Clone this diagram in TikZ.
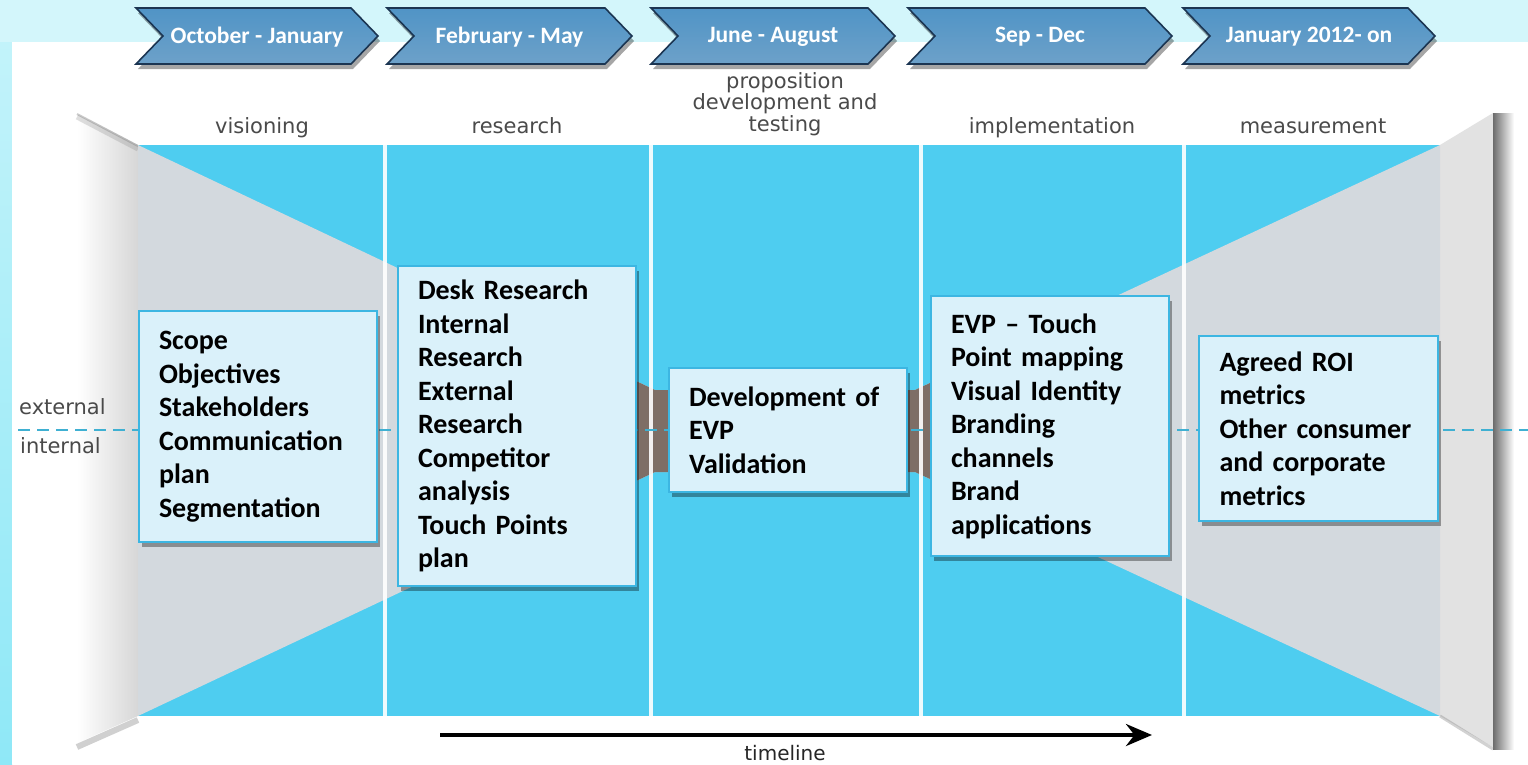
\documentclass[tikz,border=0pt]{standalone}
\usepackage{fontspec}
\setmainfont{Carlito}
\newfontfamily\dejavu{DejaVu Sans}
\usetikzlibrary{shadows,arrows.meta}
\definecolor{bgcyan}{HTML}{D3F6FB}
\definecolor{stripA}{HTML}{C2F3FA}
\definecolor{stripB}{HTML}{8FE8F7}
\definecolor{colcyan}{HTML}{4ECDF0}
\definecolor{wedge}{HTML}{D3D9DE}
\definecolor{pinch}{HTML}{7E6E66}
\definecolor{sidegray}{HTML}{E2E2E2}
\definecolor{chevtop}{HTML}{5094C6}
\definecolor{chevbot}{HTML}{6DA1C9}
\definecolor{chevedge}{HTML}{1B3552}
\definecolor{boxfill}{HTML}{DAF1FA}
\definecolor{boxedge}{HTML}{3CB6E2}
\definecolor{hdrgray}{HTML}{4A4A4A}
\definecolor{dashcol}{HTML}{3FB0D2}
\begin{document}
\begin{tikzpicture}[x=1pt,y=-1pt,
  chevbox/.style={draw=chevedge, line width=1.6pt, top color=chevtop, bottom color=chevbot,
    drop shadow={shadow xshift=2pt, shadow yshift=-5pt, opacity=0.35, fill=black}},
  chevtext/.style={text=white, font=\bfseries\fontsize{23.5}{27}\selectfont},
  infobox/.style={draw=boxedge, line width=2pt, fill=boxfill, outer sep=0pt,
    drop shadow={shadow xshift=3pt, shadow yshift=-5pt, opacity=0.35, fill=black},
    text width=198pt, align=left, inner xsep=20pt, anchor=north west,
    font=\bfseries\fontsize{28}{33.5}\selectfont},
  header/.style={text=hdrgray, font=\dejavu\fontsize{21}{21.2}\selectfont, align=center, anchor=base},
  sidelabel/.style={text=hdrgray, font=\dejavu\fontsize{21}{21}\selectfont, anchor=base west, inner sep=0pt},
  sepline/.style={draw=white, line width=4.5pt, opacity=0.9},
  dashline/.style={draw=dashcol, line width=2.5pt, dash pattern=on 12pt off 7pt},
  timearrow/.style={draw=black, line width=4pt, -{Stealth[length=26pt,width=22pt]}}
]
\useasboundingbox (0,0) rectangle (1528,764);
% background
\fill[bgcyan] (0,0) rectangle (1528,764);
\shade[top color=stripA, bottom color=stripB] (0,42) rectangle (12,764);
\fill[white] (12,42) rectangle (1528,764);

% left side panel
\shade[left color=white, right color=sidegray!95!black] (77,113) -- (138,145) -- (138,716) -- (77,743) -- cycle;
\draw[gray, line width=5pt, opacity=0.25] (77,117) -- (138,149);
\draw[gray, line width=2pt, opacity=0.4] (77,114) -- (138,146);
\draw[gray!80!black, line width=6pt, opacity=0.3] (77,747) -- (138,720);
% right side panel
\fill[sidegray] (1440,145) -- (1493,113) -- (1493,747) -- (1440,716) -- cycle;
\shade[left color=gray!85!black, right color=white] (1493,113) rectangle (1514,749);
\draw[gray, line width=3pt, opacity=0.35] (1440,716) -- (1493,749);

% columns
\fill[colcyan] (138,145) rectangle (1440,716);
% hourglass wedge
\fill[wedge] (138,145) -- (655,390) -- (915,390) -- (1440,145) -- (1440,716) -- (915,472) -- (655,472) -- (138,716) -- cycle;
\begin{scope}
  \clip (138,145) -- (655,390) -- (915,390) -- (1440,145) -- (1440,716) -- (915,472) -- (655,472) -- (138,716) -- cycle;
  \shade[left color=wedge, right color=pinch] (600,300) rectangle (640,560);
  \fill[pinch] (640,300) rectangle (930,560);
  \shade[left color=pinch, right color=wedge] (930,300) rectangle (975,560);
\end{scope}
% separators
\foreach \sx/\sn in {385/s1, 651/s2, 921/s3, 1184/s4} {
  \coordinate (\sn a) at (\sx,145);
  \coordinate (\sn b) at (\sx,716);
  \draw[sepline] (\sn a) -- (\sn b);
}

% external / internal
\coordinate (dl0) at (18,430);
\coordinate (dl1) at (1528,430);
\draw[dashline] (dl0) -- (dl1);
\node[sidelabel] (ext) at (19,414) {external};
\node[sidelabel] (int) at (20,453) {internal};

% chevrons
\foreach \L/\W/\T/\n in {136/242/{October - January}/c1, 387/245/{February - May}/c2, 651/244/{June - August}/c3, 908/264/{Sep - Dec}/c4, 1183/252/{January 2012- on}/c5} {
  \draw[chevbox] (\L,8) -- ({\L+\W-27},8) -- ({\L+\W},36) -- ({\L+\W-27},64) -- (\L,64) -- ({\L+27},36) -- cycle;
  \node[chevtext] (\n) at ({\L+\W/2},37) {\T};
}

% headers
\node[header] (h1) at (262,133) {visioning};
\node[header] (h2) at (517,133) {research};
\node[header] (h3) at (785,131) {proposition\\development and\\testing};
\node[header] (h4) at (1052,133) {implementation};
\node[header] (h5) at (1313,133) {measurement};

% boxes
\node[infobox, minimum width=238pt, minimum height=231pt] (b1) at (139,311)
  {Scope\\Objectives\\Stakeholders\\Communication\\plan\\Segmentation};
\node[infobox, minimum width=236pt, minimum height=320pt] (b2) at (398,266)
  {Desk Research\\Internal\\Research\\External\\Research\\Competitor\\analysis\\Touch Points\\plan};
\node[infobox, minimum width=237pt, minimum height=124pt] (b3) at (669,368)
  {Development of\\EVP\\Validation};
\node[infobox, minimum width=237pt, minimum height=260pt] (b4) at (931,296)
  {EVP -- Touch\\Point mapping\\Visual Identity\\Branding\\channels\\Brand\\applications};
\node[infobox, minimum width=239pt, minimum height=185pt] (b5) at (1199,336)
  {Agreed ROI\\metrics\\Other consumer\\and corporate\\metrics};

% timeline
\coordinate (tl0) at (440,735);
\coordinate (tl1) at (1152,735);
\draw[timearrow] (tl0) -- (tl1);
\node[text=black!85, font=\dejavu\fontsize{20}{22}\selectfont] (tl) at (785,753) {timeline};
\end{tikzpicture}
\end{document}
